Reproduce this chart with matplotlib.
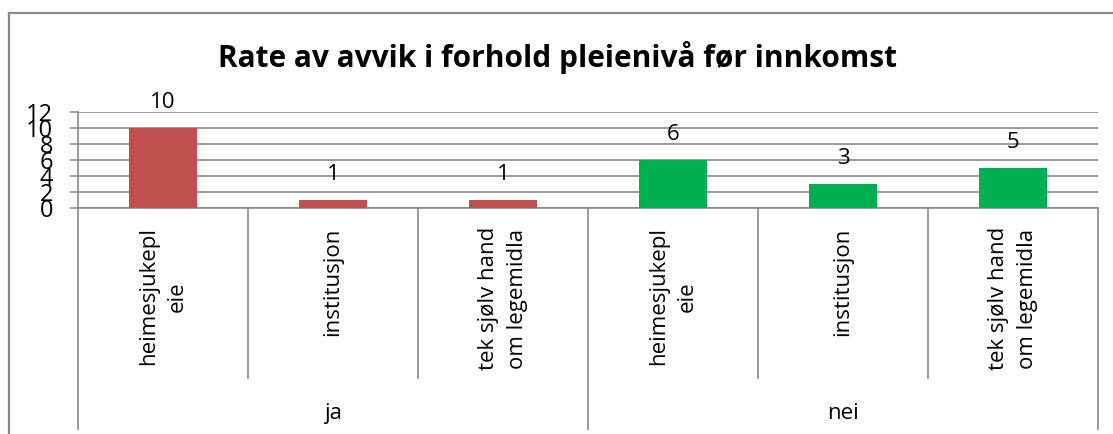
import matplotlib
matplotlib.use("Agg")
import matplotlib.pyplot as plt
from matplotlib.lines import Line2D

# data
groups = ["ja", "nei"]
categories = ["heimesjukepl\neie", "institusjon", "tek sjølv hand\nom legemidla",
              "heimesjukepl\neie", "institusjon", "tek sjølv hand\nom legemidla"]
values = [10, 1, 1, 6, 3, 5]
bar_colors = ["#C0504D", "#C0504D", "#C0504D", "#00B050", "#00B050", "#00B050"]
yticks = [0, 2, 4, 6, 8, 10, 12]

plt.rcParams['font.family'] = ['Open Sans', 'DejaVu Sans']
grey = "#898989"

fig = plt.figure(figsize=(11.13, 4.34), dpi=100)
ax = fig.add_axes([78/1113, 1 - 208/434, 1020/1113, 96/434])

x = list(range(len(values)))
ax.bar(x, values, width=0.4, color=bar_colors, zorder=3)
for xi, v in zip(x, values):
    ax.annotate(str(v), (xi, v), xytext=(0, 18), textcoords="offset points",
                ha="center", va="center", fontsize=16)

ax.set_xlim(-0.5, len(values) - 0.5)
ax.set_ylim(0, 12)
ax.set_yticks(yticks)
ax.set_yticklabels([str(t) for t in yticks], fontsize=17)
ax.tick_params(axis="y", length=6, width=1.1, color=grey, pad=12)
ax.set_xticks([])
ax.yaxis.grid(True, color=grey, linewidth=1.2, zorder=0)
for s in ["top", "right"]:
    ax.spines[s].set_visible(False)
for s in ["left", "bottom"]:
    ax.spines[s].set_color(grey)
    ax.spines[s].set_linewidth(1.2)

# category labels and separators below the axis
tr = ax.get_xaxis_transform()
for xi, lab in zip(x, categories):
    ax.text(xi, -0.2, lab, transform=tr, rotation=90, ha="center", va="top",
            multialignment="center", fontsize=16, linespacing=1.5)
for b in range(len(values) + 1):
    bottom = -2.30 if b % 3 == 0 else -1.77
    ax.add_line(Line2D([b - 0.5, b - 0.5], [0, bottom], transform=tr, color=grey,
                       linewidth=1.2, clip_on=False))
for gi, g in enumerate(groups):
    ax.text(gi * 3 + 1, -2.14, g, transform=tr, ha="center", va="center", fontsize=16)

fig.text(558/1113, 1 - 58/434, "Rate av avvik i forhold pleienivå før innkomst",
         ha="center", va="center", fontsize=21.5, fontweight="bold")

# chart area border (cut off at right and bottom)
fig.add_artist(Line2D([9/1113, 1], [1 - 13/434, 1 - 13/434], transform=fig.transFigure,
                      color=grey, linewidth=1.6))
fig.add_artist(Line2D([9/1113, 9/1113], [0, 1 - 13/434], transform=fig.transFigure,
                      color=grey, linewidth=1.6))

fig.savefig("out.png", dpi=100)
